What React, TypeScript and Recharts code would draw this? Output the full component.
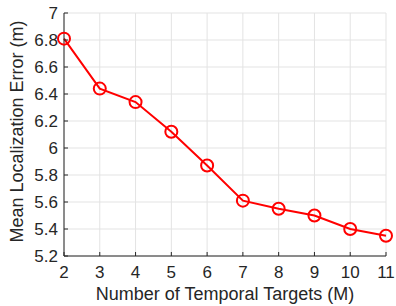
import React from 'react';
import { LineChart, Line, XAxis, YAxis, CartesianGrid } from 'recharts';

const targets = [2, 3, 4, 5, 6, 7, 8, 9, 10, 11];
const meanError = [6.81, 6.44, 6.34, 6.12, 5.87, 5.61, 5.55, 5.5, 5.4, 5.35];
const yTicks = [5.2, 5.4, 5.6, 5.8, 6, 6.2, 6.4, 6.6, 6.8, 7];

const data = targets.map((m, i) => ({ m, err: meanError[i] }));

const ink = '#262626';
const font = 'Liberation Sans, Arial, sans-serif';
const fmt = (v: number) => String(Number(v.toFixed(1)));

const App: React.FC = () => {
  return (
    <div style={{ position: 'absolute', left: 0, top: 0, width: 396, height: 306, background: '#fff' }}>
      <LineChart width={396} height={306} data={data} margin={{ top: 13, right: 10, bottom: 0, left: 0 }}>
        <CartesianGrid stroke="#e3e3e3" strokeWidth={1} xAxisId="b" yAxisId="l" />
        <XAxis
          xAxisId="b"
          dataKey="m"
          type="number"
          domain={[2, 11]}
          ticks={targets}
          height={50}
          stroke={ink}
          tickSize={-4}
          tickMargin={14}
          tick={{ fill: ink, fontSize: 17, fontFamily: font }}
          label={{ value: 'Number of Temporal Targets (M)', position: 'insideBottom', offset: 6, fill: ink, fontSize: 18, fontFamily: font }}
        />
        <XAxis xAxisId="t" orientation="top" dataKey="m" type="number" domain={[2, 11]} ticks={targets} height={0} stroke={ink} mirror tick={false} tickSize={4} />
        <YAxis
          yAxisId="l"
          type="number"
          domain={[5.2, 7]}
          ticks={yTicks}
          width={64}
          stroke={ink}
          tickSize={-4}
          tickMargin={10}
          tickFormatter={fmt}
          tick={{ fill: ink, fontSize: 17, fontFamily: font }}
          label={{ value: 'Mean Localization Error (m)', angle: -90, position: 'insideLeft', offset: 17, dy: -3, style: { textAnchor: 'middle' }, fill: ink, fontSize: 18, fontFamily: font }}
        />
        <YAxis yAxisId="r" orientation="right" type="number" domain={[5.2, 7]} ticks={yTicks} width={0} stroke={ink} mirror tick={false} tickSize={4} />
        <Line
          xAxisId="b"
          yAxisId="l"
          dataKey="err"
          stroke="#ff0000"
          strokeWidth={2}
          dot={{ r: 6, fill: 'none', stroke: '#ff0000', strokeWidth: 2 }}
          isAnimationActive={false}
        />
      </LineChart>
    </div>
  );
};

export default App;
